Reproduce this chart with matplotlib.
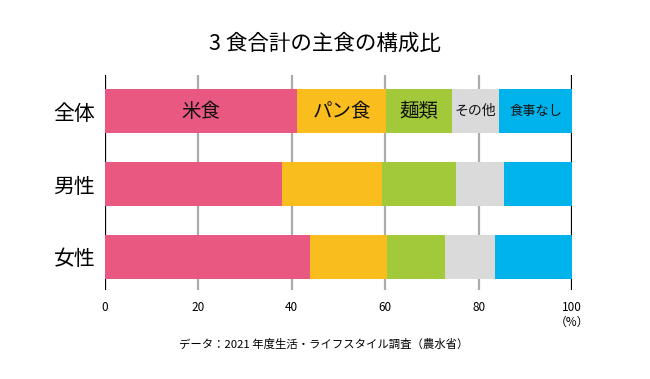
import matplotlib.pyplot as plt

plt.rcParams['font.family'] = ['Noto Sans CJK JP', 'DejaVu Sans']

groups = ["全体", "男性", "女性"]
series = ["米食", "パン食", "麺類", "その他", "食事なし"]
rice = [41.2, 38.0, 44.0]
bread = [19.0, 21.4, 16.3]
noodles = [14.0, 15.8, 12.6]
other = [10.2, 10.3, 10.6]
no_meal = [15.6, 14.5, 16.5]
colors = ["#E95881", "#F9BD1D", "#A2C93A", "#DADADA", "#00B3EB"]
label_sizes = [14, 14, 14, 10, 9.5]
xticks = [0, 20, 40, 60, 80, 100]

fig = plt.figure(figsize=(6.5, 3.79), dpi=100)
ax = fig.add_axes([105 / 650, 1 - 290 / 379, 467 / 650, 215 / 379])

# grid lines behind bars
for t in xticks:
    c = "black" if t in (0, 100) else "#ABABAB"
    ax.axvline(t, color=c, linewidth=1.6, zorder=0)

values = [rice, bread, noodles, other, no_meal]
y = list(range(len(groups)))
left = [0.0] * len(groups)
for name, vals, col, fs in zip(series, values, colors, label_sizes):
    ax.barh(y, vals, left=left, height=0.605, color=col, zorder=2)
    # segment labels only on the first bar
    ax.text(left[0] + vals[0] / 2, 0, name, ha="center", va="center",
            fontsize=fs, color="#111111", zorder=3)
    left = [l + v for l, v in zip(left, vals)]

ax.set_xlim(0, 100)
ax.set_ylim(2.458, -0.5)
ax.set_yticks(y)
ax.set_yticklabels(groups, fontsize=15)
ax.set_xticks(xticks)
ax.set_xticklabels([str(t) for t in xticks], fontsize=8.5)
ax.tick_params(axis="both", length=0)
ax.tick_params(axis="x", pad=8)
ax.tick_params(axis="y", pad=7)
for s in ax.spines.values():
    s.set_visible(False)

fig.text(572 / 650, 1 - 322 / 379, "（%）", ha="center", va="center", fontsize=8.5)
fig.text(0.5, 1 - 44 / 379, "3 食合計の主食の構成比", ha="center", va="center", fontsize=15.5)
fig.text(324 / 650, 1 - 344 / 379, "データ：2021 年度生活・ライフスタイル調査（農水省）",
         ha="center", va="center", fontsize=8.2)

fig.savefig("out.png", dpi=100)
